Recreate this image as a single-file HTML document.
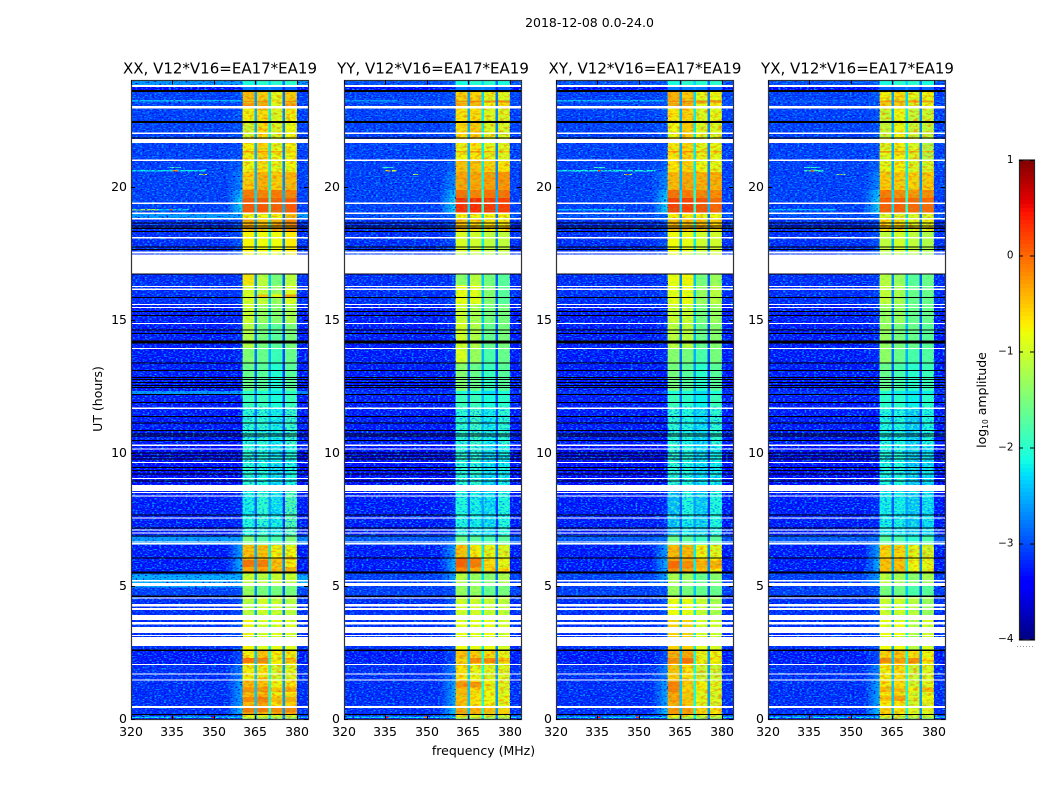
<!DOCTYPE html>
<html lang="en">
<head>
<meta charset="utf-8">
<title>2018-12-08 dynamic spectra</title>
<style>
html,body{margin:0;padding:0;background:#fff;}
svg{display:block;}
text{font-family:"DejaVu Sans","Liberation Sans",sans-serif;fill:#000;}
</style>
</head>
<body>
<svg id="chart" xmlns="http://www.w3.org/2000/svg" width="1050" height="800" viewBox="0 0 1050 800">
  <defs>
    <filter id="speckLight" x="0" y="0" width="1" height="1" color-interpolation-filters="sRGB">
      <feTurbulence type="fractalNoise" baseFrequency="0.42 0.85" numOctaves="1" seed="3"/>
      <feColorMatrix type="matrix" values="0 0 0 0 0  0 0 0 0 .62  0 0 0 0 1  5 0 0 0 -2.5"/>
    </filter>
    <filter id="speckDark" x="0" y="0" width="1" height="1" color-interpolation-filters="sRGB">
      <feTurbulence type="fractalNoise" baseFrequency="0.42 0.85" numOctaves="1" seed="11"/>
      <feColorMatrix type="matrix" values="0 0 0 0 0  0 0 0 0 0  0 0 0 0 .85  0 5 0 0 -2.8"/>
    </filter>
    <filter id="speckBand" x="0" y="0" width="1" height="1" color-interpolation-filters="sRGB">
      <feTurbulence type="fractalNoise" baseFrequency="0.4 0.7" numOctaves="1" seed="23"/>
      <feColorMatrix type="matrix" values="0 0 0 0 0  0 0 0 0 .5  0 0 0 0 1  0 7 0 0 -3.5"/>
    </filter>
    <filter id="speckBandBright" x="0" y="0" width="1" height="1" color-interpolation-filters="sRGB">
      <feTurbulence type="fractalNoise" baseFrequency="0.35 0.6" numOctaves="1" seed="31"/>
      <feColorMatrix type="matrix" values="0 0 0 0 .2  0 0 0 0 1  0 0 0 0 .75  0 0 7 0 -3.4"/>
    </filter>
    <filter id="mottleHot" x="0" y="0" width="1" height="1" color-interpolation-filters="sRGB">
      <feTurbulence type="fractalNoise" baseFrequency="0.22 0.45" numOctaves="2" seed="7"/>
      <feColorMatrix type="matrix" values="0 0 0 0 1  0 0 0 0 .3  0 0 0 0 0  3.5 0 0 0 -1.6"/>
    </filter>
    <filter id="mottleCool" x="0" y="0" width="1" height="1" color-interpolation-filters="sRGB">
      <feTurbulence type="fractalNoise" baseFrequency="0.22 0.5" numOctaves="2" seed="17"/>
      <feColorMatrix type="matrix" values="0 0 0 0 .1  0 0 0 0 .95  0 0 0 0 .45  0 3.5 0 0 -1.65"/>
    </filter>
    <linearGradient id="skirtFade" x1="0" x2="1" y1="0" y2="0">
      <stop offset="0" stop-color="#000"/>
      <stop offset="1" stop-color="#fff"/>
    </linearGradient>
    <mask id="skirtMask" maskContentUnits="objectBoundingBox" x="0" y="0" width="1" height="1">
      <rect x="0" y="0" width="1" height="1" fill="url(#skirtFade)"/>
    </mask>
  </defs>
  <text x="589.5" y="27" text-anchor="middle" font-size="12.5">2018-12-08 0.0-24.0</text>
  <text x="483.5" y="755" text-anchor="middle" font-size="12.5">frequency (MHz)</text>
  <text transform="translate(102,399) rotate(-90)" text-anchor="middle" font-size="12.5">UT (hours)</text>
  <text transform="translate(986,400) rotate(-90)" text-anchor="middle" font-size="12.5">log<tspan font-size="7.5" dy="2">10</tspan><tspan dy="-2"> amplitude</tspan></text>
  <g id="panels"></g>
  <g id="colorbar"></g>
</svg>
<script>
// ---------- axis ticks ----------
const freqTicks = [320, 335, 350, 365, 380];
const hourTicks = [0, 5, 10, 15, 20];
const colorbarTicks = [1, 0, -1, -2, -3, -4];
const panelTitles = ["XX, V12*V16=EA17*EA19", "YY, V12*V16=EA17*EA19", "XY, V12*V16=EA17*EA19", "YX, V12*V16=EA17*EA19"];

// ---------- heatmap blocks: time edges in UT hours (top to bottom), frequency edges in MHz ----------
const rowEdges = [24,23.83,23.57,23.26,23.15,22.95,22.47,21.86,21.04,20.56,19.88,19.58,19.05,18.84,18.34,16.76,16.31,15.56,14.85,13.95,13.39,12.33,12.22,11.70,10.31,8.81,7.67,6.93,6.55,6.06,5.53,5.13,4.60,3.92,2.62,2.08,1.49,0.96,0.50,0.21,0.11,0.06,0];
const channelEdges = [320,354.5,360.4,364.7,365.6,369.7,370.6,374.8,375.7,380,384];

// ---------- log10 amplitude per time block ----------
const rowBackground = [-3.0,-3.4,-3.1,-3.0,-3.1,-3.1,-3.1,-3.1,-3.1,-3.1,-3.1,-3.1,-3.0,-3.2,-3.2,-3.2,-3.2,-3.3,-3.3,-3.3,-3.3,-3.2,-3.3,-3.3,-3.4,-3.3,-3.3,-2.95,-3.3,-3.3,-3.1,-3.1,-3.2,-3.2,-3.3,-3.2,-3.2,-3.2,-3.2,-3.2,-2.2,-3.3];
const rowSkirt = [-2.9,-3.3,-3,-3,-3,-3,-3,-3,-2.9,-2.7,-2.3,-2.2,-2.9,-3,-3,-3.1,-3.1,-3.2,-3.2,-3.2,-3.3,-3.1,-3.3,-3.4,-3.4,-3.2,-3.2,-2.8,-2.5,-2.4,-2.5,-3,-3,-3,-3,-2.7,-2.5,-2.5,-2.3,-3,-2.2,-3];
const rowNotch = [-2.6,-3,-2.6,-2.6,-2.6,-2.5,-2.5,-2.5,-2.5,-2.5,-2.3,-2.3,-2.6,-2.5,-2.5,-2.7,-2.7,-2.7,-2.8,-2.8,-2.9,-2.7,-2.8,-2.8,-2.9,-2.9,-2.9,-2.7,-2.5,-2.5,-2.6,-2.7,-2.5,-2.5,-2.4,-2.4,-2.4,-2.4,-2.4,-2.6,-2.4,-2.9];

// four receiver sub-bands per time block, one table per polarisation
const xxBands = [[-2.1,-2,-2,-2],[-2.8,-2.8,-2.8,-2.9],[-.45,-.55,-.85,-.55],[-.9,-.9,-1,-.9],[-.3,-.4,-.9,-.35],[-.75,-.65,-.9,-.75],[-1,-.65,-.9,-.8],[-.75,-.6,-.85,-.75],[-.8,-.65,-.85,-.8],[-.55,-.4,-.55,-.45],[-.1,-.15,-.1,-.15],[.1,.1,.05,.1],[-.8,-.8,-.8,-.5],[-.45,-.5,-.4,-.2],[-.75,-.8,-.8,-.7],[-.65,-1.1,-1.5,-1.1],[-.95,-1.05,-1.3,-.9],[-1,-1.3,-1.4,-1.2],[-1.15,-1.5,-1.7,-1.5],[-1.45,-1.6,-1.9,-1.6],[-1.6,-1.7,-2.05,-1.7],[-2,-2.1,-2.2,-2],[-1.9,-1.9,-2.1,-1.9],[-2,-2,-2.2,-1.9],[-2,-2.1,-2.3,-2.1],[-2.2,-2,-2.3,-1.75],[-2.1,-2,-2.2,-1.7],[-1.5,-1.7,-1.8,-1.5],[-.5,-.5,-.75,-.8],[-.35,-.35,-.5,-.4],[-1,-1.1,-1,-1],[-1.3,-1.5,-1.5,-1.5],[-1.1,-.95,-1,-1.1],[-.75,-.9,-.85,-.9],[-.75,-.5,-.75,-.75],[-.75,-.7,-.95,-.9],[-.45,-.5,-.8,-.7],[-.45,-.35,-.7,-.6],[-.3,-.4,-.35,-.4],[-.75,-.75,-.85,-.95],[-1,-1.1,-1.2,-1.2],[-1.3,-1.3,-1.4,-1.4]];
const yyBands = [[-2.1,-2,-2,-2.1],[-2.8,-2.8,-2.8,-2.9],[-.6,-.6,-.85,-.9],[-.9,-.9,-1,-1],[-.4,-.45,-.8,-.7],[-.7,-.65,-.9,-.9],[-.65,-.55,-.9,-.95],[-.8,-.7,-.85,-.9],[-.5,-.5,-.6,-.7],[-.35,-.35,-.3,-.25],[-.05,-.15,-.05,-.05],[.35,.35,.3,.25],[-.8,-.8,-.8,-.8],[-.5,-.6,-.7,-.7],[-.95,-1,-1.1,-1.1],[-1.4,-1.1,-1.5,-1.7],[-.8,-.85,-1.4,-1.7],[-1,-1.2,-1.5,-1.5],[-.95,-1.15,-1.6,-1.5],[-.9,-1.3,-1.8,-1.6],[-1.4,-1.6,-1.9,-1.7],[-2.1,-2.1,-2.3,-2.1],[-1.9,-1.9,-2.1,-2],[-2,-1.9,-2.2,-2],[-2,-2,-2.3,-2.2],[-2.1,-2.2,-2.3,-2.1],[-2.1,-2.2,-2.3,-2.1],[-1.6,-1.7,-1.8,-1.7],[-.5,-.75,-.85,-.9],[-.2,-.4,-.6,-.7],[-1.1,-1.3,-1.4,-1.2],[-1.3,-1.3,-1.6,-1.5],[-.95,-.95,-1,-1.05],[-.8,-.85,-.8,-.95],[-.5,-.55,-.65,-.85],[-.7,-.85,-.9,-.9],[-.45,-.65,-.8,-.9],[-.5,-.7,-.8,-.85],[-.35,-.4,-.5,-.6],[-.75,-.8,-.9,-.95],[-1,-1.1,-1.2,-1.2],[-1.3,-1.3,-1.4,-1.4]];
const xyBands = [[-2.1,-2,-2,-2],[-2.8,-2.8,-2.8,-2.9],[-.4,-.55,-.85,-.8],[-.9,-.9,-1,-1],[-.35,-.4,-.85,-.7],[-.7,-.6,-.9,-.85],[-.8,-.55,-.9,-.9],[-.7,-.6,-.85,-.85],[-.7,-.6,-.8,-.85],[-.45,-.35,-.4,-.4],[-.05,-.1,-.15,-.2],[.25,.25,.15,0],[-.75,-.75,-.8,-.8],[-.45,-.5,-.5,-.6],[-.8,-.85,-1,-1],[-.8,-.75,-1.5,-1.3],[-.85,-.8,-1.3,-1.1],[-1,-1,-1.5,-1.3],[-1.1,-1.1,-1.6,-1.4],[-1.4,-1.5,-1.8,-1.5],[-1.5,-1.7,-2,-1.7],[-2.1,-2.1,-2.3,-2.1],[-1.9,-2,-2.2,-1.9],[-2,-2.1,-2.3,-2],[-2,-2.1,-2.3,-2.2],[-2.5,-2.1,-2.4,-2.1],[-2.5,-2.2,-2.4,-2.1],[-1.6,-1.7,-1.9,-1.7],[-.45,-.45,-.8,-.9],[-.3,-.35,-.55,-.75],[-1.2,-1.3,-1.6,-1.4],[-1.3,-1.5,-1.6,-1.6],[-.8,-.8,-1,-1.2],[-.55,-.55,-.9,-.95],[-.4,-.35,-.85,-.8],[-.55,-.7,-1,-1],[-.3,-.5,-.9,-.9],[-.4,-.55,-.9,-.95],[-.25,-.3,-.6,-.7],[-.7,-.75,-.9,-.95],[-1,-1.1,-1.2,-1.2],[-1.3,-1.3,-1.4,-1.4]];
const yxBands = [[-2.1,-2,-2,-2.1],[-2.9,-2.9,-2.9,-2.9],[-.75,-.65,-.85,-.8],[-1,-1,-1.05,-1],[-.55,-.55,-.9,-.8],[-1,-.8,-1.05,-1],[-1.05,-.8,-1,-1.05],[-.9,-.75,-.9,-1.15],[-.85,-.75,-.9,-.95],[-.55,-.55,-.6,-.55],[-.1,-.2,-.25,-.2],[.05,.05,0,0],[-.95,-.95,-.95,-.95],[-.65,-.7,-.85,-.85],[-1.1,-1,-1.1,-1.2],[-1.1,-1.3,-1.7,-1.6],[-1.05,-1.2,-1.6,-1.6],[-1.3,-1.3,-1.6,-1.6],[-1.3,-1.5,-1.6,-1.7],[-1.35,-1.6,-1.8,-1.75],[-1.6,-1.8,-2,-1.9],[-2.1,-2.2,-2.3,-2.2],[-2,-2,-2.2,-2],[-2.1,-2.1,-2.4,-2.1],[-2.1,-2.1,-2.4,-2.3],[-2.2,-2.2,-2.4,-2.3],[-2.2,-2.2,-2.4,-2.3],[-1.7,-1.8,-2,-1.8],[-.6,-.6,-.85,-.95],[-.5,-.5,-.8,-.85],[-1.1,-1.2,-1.4,-1.2],[-1.5,-1.55,-1.8,-1.7],[-1,-.95,-1.1,-1.3],[-.8,-.8,-1.15,-.95],[-.6,-.55,-.65,-.8],[-.75,-.65,-1,-.9],[-.7,-.65,-.95,-.9],[-.75,-.7,-.95,-.9],[-.6,-.7,-.9,-.9],[-.8,-.85,-.95,-1],[-1.1,-1.1,-1.2,-1.2],[-1.3,-1.3,-1.4,-1.4]];

// ---------- bright stripes across the sub-bands: panel, hour low, hour high, band levels ----------
const bandStripes = [
  [0,2.13,2.31,-.1,-.15,-.75,-.5],[0,1.03,1.21,-.25,-.25,-.5,-.35],[0,.65,.84,-.2,-.15,-.5,-.4],[0,.28,.43,-.1,-.1,-.2,-.2],[0,5.72,6,-.05,-.1,-.5,-.75],[0,15.87,15.97,-.9,-.45,-.75,-.25],[0,23.18,23.24,-.2,-.2,-.7,-.2],[0,21.3,21.36,-.3,-.3,-.4,-.5],
  [1,5.7,6.05,.05,-.1,-.65,-.85],[1,2.13,2.31,-.6,-.2,-.2,-.55],[1,1.2,1.4,-.25,-.25,-.75,-.9],[1,23.18,23.24,-.2,-.1,-.2,-.2],[1,21.3,21.36,-.3,-.3,-.4,-.5],
  [2,5.68,5.95,0,-.2,-.4,-.4],[2,2.13,2.31,-.2,-.05,-.75,-.75],[2,1.03,1.4,-.15,-.6,-.75,-.9],[2,.65,.84,-.3,-.5,-.8,-.9],[2,23.18,23.24,-.2,-.1,-.2,-.2],[2,21.3,21.36,-.3,-.3,-.4,-.5],
  [3,2.13,2.31,-.2,-.3,-.2,-.7],[3,1.03,1.21,-.45,-.5,-.75,-.45],[3,.7,.9,-.5,-.3,-.9,-.8],[3,23.18,23.24,-.3,-.25,-.3,-.3],[3,21.3,21.36,-.3,-.3,-.4,-.5]
];

// ---------- localized features: panel, hour low, hour high, MHz low, MHz high, log10 amplitude ----------
const rfiFeatures = [
  [0,23.83,24,320,360.4,-2.6],[0,23.83,24,380,384,-2.6],[0,18.84,19.05,320,360.4,-2.6],[0,18.84,19.05,380,384,-2.6],[0,12.22,12.33,320,360.4,-2.6],[0,12.22,12.33,380,384,-2.7],[0,6.62,6.85,320,360.4,-2.6],[0,6.62,6.85,380,384,-2.7],
  [0,4.95,5.45,320,360.4,-2.5],[0,4.95,5.45,380,384,-2.5],[0,20.72,20.76,333.5,338,-1.9],[0,20.59,20.63,320,347,-2.2],[0,20.58,20.64,335,337,-0.2],[0,20.45,20.49,344.5,347.5,-1.2],[0,20.45,20.49,346,346.7,0.3],[0,19.12,19.17,320,330,-1.2],[0,19.12,19.17,330,341,-2.3],[0,19.12,19.17,334,335,0.2],[0,23.22,23.26,320,360,-2.4],[0,0.06,0.11,334.5,335.5,0.4],[0,0.06,0.11,349,350,0.4],
  [1,20.72,20.76,334,338,-1.9],[1,20.59,20.63,335,339,-0.9],[1,20.58,20.64,335.5,336.5,-0.3],[1,20.45,20.49,345,347,-1],[1,23.22,23.26,320,340,-2.6],[1,0.06,0.11,335,336,0.4],[1,0.06,0.11,349,350,-0.3],
  [2,20.72,20.76,333.5,338,-1.9],[2,20.59,20.63,320,356,-2.1],[2,20.58,20.64,335.2,336.2,0.2],[2,20.45,20.49,344.5,347.5,-1.2],[2,20.45,20.49,345.5,346.2,0.3],[2,23.22,23.26,320,360,-2.4],[2,19.12,19.17,320,345,-2.3],[2,0.06,0.11,335,336,0.4],[2,0.06,0.11,349,350,0.1],
  [3,20.72,20.76,333,339,-2],[3,20.59,20.63,333,340,-1.9],[3,20.57,20.65,335.5,336.5,0.2],[3,20.45,20.49,344.5,348,-1.3],[3,20.45,20.49,346,346.8,-0.3],[3,19.12,19.17,320,345,-2.4],[3,0.06,0.11,335,336,0.4],[3,0.06,0.11,349,350,0.2]
];

// ---------- flagged times shared by all panels, in UT hours [low, high] ----------
const blankedIntervals = [[23.76,23.83],[22.95,23.04],[21.99,22.04],[21.66,21.81],[20.97,21.04],[19.37,19.41],[18.99,19.05],[18.78,18.84],[18.07,18.12],[17.51,17.57],[16.76,17.47],[16.25,16.29],[16.14,16.18],[15.56,15.60],[15.46,15.50],[14.86,14.90],[13.92,13.96],[11.67,11.71],[10.28,10.32],[10.14,10.17],[9.63,9.67],[9.03,9.07],[8.59,8.81],[8.50,8.54],[8.37,8.41],[7.56,7.59],[7.10,7.14],[6.98,7.02],[6.64,6.68],[6.58,6.62],[5.19,5.24],[5.01,5.13],[4.54,4.59],[4.24,4.34],[4.12,4.18],[3.74,3.92],[3.56,3.66],[3.24,3.47],[3.14,3.17],[2.76,3.10],[2.05,2.08],[1.70,1.73],[1.46,1.51],[0.43,0.50]];
const zeroedIntervals = [[23.57,23.64],[22.41,22.47],[21.84,21.86],[18.62,18.66],[18.52,18.56],[18.43,18.47],[18.31,18.34],[17.72,17.76],[17.63,17.67],[16.74,16.76],[15.84,15.87],[15.33,15.35],[15.16,15.19],[14.63,14.65],[14.48,14.51],[14.13,14.23],[13.39,13.41],[13.10,13.13],[12.85,12.87],[12.75,12.78],[12.64,12.67],[12.55,12.57],[12.45,12.48],[12.20,12.23],[11.90,11.93],[11.37,11.40],[11.12,11.15],[10.85,10.87],[10.72,10.75],[10.63,10.66],[10.47,10.49],[10.00,10.02],[9.90,9.92],[9.78,9.81],[9.47,9.49],[9.34,9.37],[9.22,9.24],[8.93,8.97],[7.67,7.70],[7.19,7.22],[6.89,6.92],[6.06,6.09],[5.49,5.55],[4.61,4.66],[2.58,2.62],[0.18,0.21]];

// ---------- time spans carrying extra band texture, in UT hours [low, high] ----------
const hotSpans = [[18.34,23.57],[5.53,6.55],[0,2.62]];
const coolSpans = [[11.7,17.57],[2.76,5.53]];

// ---------- layout ----------
const SVGNS = "http://www.w3.org/2000/svg";
const axesLeft = [131, 344, 556, 768];
const titleCentre = [220, 433, 645, 857.5];
const axesWidth = 177, axesTop = 80.5, axesBottom = 719.5;
const freqMin = 320, freqMax = 384, hourMax = 24;
const levelMin = -4, levelMax = 1;
const cbLeft = 1019, cbWidth = 15, cbTop = 160, cbBottom = 640;

function xScale(left, mhz) { return left + (mhz - freqMin) * axesWidth / (freqMax - freqMin); }
function yScale(hour) { return axesBottom - hour * (axesBottom - axesTop) / hourMax; }
function cbScale(level) { return cbBottom - (level - levelMin) * (cbBottom - cbTop) / (levelMax - levelMin); }

function ramp(t, a, b) { return Math.max(0, Math.min(1, (t - a) / (b - a))); }
function jet(level) {
  const t = Math.max(0, Math.min(1, (level - levelMin) / (levelMax - levelMin)));
  const r = t < .89 ? ramp(t, .35, .66) : 1 - .5 * ramp(t, .89, 1);
  const g = t < .5 ? ramp(t, .125, .375) : 1 - ramp(t, .64, .91);
  const b = t < .11 ? .5 + .5 * ramp(t, 0, .11) : 1 - ramp(t, .34, .65);
  return "rgb(" + Math.round(r * 255) + "," + Math.round(g * 255) + "," + Math.round(b * 255) + ")";
}
function make(tag, attrs, parent) {
  const el = document.createElementNS(SVGNS, tag);
  for (const k in attrs) el.setAttribute(k, attrs[k]);
  parent.appendChild(el);
  return el;
}

const bandTables = [xxBands, yyBands, xyBands, yxBands];
const panelKeys = ["xx", "yy", "xy", "yx"];
const bandChannelIndex = [2, 4, 6, 8];
const panelsGroup = document.getElementById("panels");

panelKeys.forEach(function (key, p) {
  const left = axesLeft[p];
  const right = left + axesWidth;
  const bands = bandTables[p];
  const panel = make("g", {}, panelsGroup);
  
  

  const cells = make("g", { "shape-rendering": "crispEdges" }, panel);
  
  
  const skirtGroup = make("g", { "shape-rendering": "crispEdges", mask: "url(#skirtMask)" }, panel);
  
  
  const rfiGroup = make("g", { "shape-rendering": "crispEdges" }, panel);
  
  

  // heat cells
  for (let r = 0; r < rowEdges.length - 1; r++) {
    const rowLevels = [rowBackground[r], rowBackground[r], bands[r][0], rowNotch[r], bands[r][1], rowNotch[r] + .3, bands[r][2], rowNotch[r] - .2, bands[r][3], rowBackground[r]];
    const y0 = yScale(rowEdges[r]), y1 = yScale(rowEdges[r + 1]);
    for (let c = 0; c < channelEdges.length - 1; c++) {
      const x0 = xScale(left, channelEdges[c]), x1 = xScale(left, channelEdges[c + 1]);
      const cell = make("rect", { x: x0, y: y0, width: x1 - x0, height: y1 - y0, fill: jet(rowLevels[c]) }, cells);
      
      
    }
    const sx0 = xScale(left, channelEdges[1]), sx1 = xScale(left, channelEdges[2]);
    const skirtCell = make("rect", { x: sx0, y: y0, width: sx1 - sx0, height: y1 - y0, fill: jet(rowSkirt[r]) }, skirtGroup);
    
    
  }

  // stripes across the sub-bands
  bandStripes.forEach(function (s) {
    if (s[0] !== p) return;
    bandChannelIndex.forEach(function (c, b) {
      const x0 = xScale(left, channelEdges[c]), x1 = xScale(left, channelEdges[c + 1]);
      const y0 = yScale(s[2]), y1 = yScale(s[1]);
      const stripe = make("rect", { x: x0, y: y0, width: x1 - x0, height: y1 - y0, fill: jet(s[3 + b]) }, rfiGroup);
      
      
    });
  });

  // localized interference
  rfiFeatures.forEach(function (f) {
    if (f[0] !== p) return;
    const x0 = xScale(left, f[3]), x1 = xScale(left, f[4]);
    const y0 = yScale(f[2]), y1 = yScale(f[1]);
    const mark = make("rect", { x: x0, y: y0, width: x1 - x0, height: y1 - y0, fill: jet(f[5]) }, rfiGroup);
    
    
  });

  // speckle texture over background
  const bgX1 = xScale(left, channelEdges[2]);
  const rightX0 = xScale(left, channelEdges[9]);
  ["speckLight", "speckDark"].forEach(function (id) {
    const a = make("rect", { x: left, y: axesTop, width: bgX1 - left, height: axesBottom - axesTop, fill: "#000", filter: "url(#" + id + ")" }, panel);
    
    
    const b = make("rect", { x: rightX0, y: axesTop, width: right - rightX0, height: axesBottom - axesTop, fill: "#000", filter: "url(#" + id + ")" }, panel);
    
    
  });

  // texture inside each receiver sub-band
  bandChannelIndex.forEach(function (c) {
    const x0 = xScale(left, channelEdges[c]), x1 = xScale(left, channelEdges[c + 1]);
    function texture(span, id, op) {
      const y0 = yScale(span[1]), y1 = yScale(span[0]);
      const t = make("rect", { x: x0, y: y0, width: x1 - x0, height: y1 - y0, fill: "#000", filter: "url(#" + id + ")", opacity: op }, panel);
      
      
    }
    hotSpans.forEach(function (s) { texture(s, "mottleHot", .5); texture(s, "mottleCool", .25); });
    coolSpans.forEach(function (s) { texture(s, "mottleCool", .3); });
    texture([6.9, 11.75], "speckBand", .8);
    texture([6.9, 11.75], "speckBandBright", .8);
  });

  // flagged rows
  const flags = make("g", { "shape-rendering": "crispEdges" }, panel);
  
  
  blankedIntervals.forEach(function (iv) {
    const y0 = yScale(iv[1]), y1 = yScale(iv[0]);
    const gap = make("rect", { x: left, y: y0, width: axesWidth, height: Math.max(1, y1 - y0), fill: "#fff" }, flags);
    
    
  });
  zeroedIntervals.forEach(function (iv) {
    const y0 = yScale(iv[1]), y1 = yScale(iv[0]);
    const gap = make("rect", { x: left, y: y0, width: axesWidth, height: Math.max(1, y1 - y0), fill: "#000" }, flags);
    
    
  });

  // frame
  const frame = make("rect", { x: left + .5, y: axesTop, width: axesWidth, height: axesBottom - axesTop, fill: "none", stroke: "#333", "stroke-width": 1.2 }, panel);
  
  

  // ticks + labels
  freqTicks.forEach(function (t) {
    const x = Math.round(xScale(left, t)) + .5;
    const low = make("line", { x1: x, x2: x, y1: axesBottom, y2: axesBottom - 4, stroke: "#000" }, panel);
    
    
    const high = make("line", { x1: x, x2: x, y1: axesTop, y2: axesTop + 4, stroke: "#000" }, panel);
    
    
    const label = make("text", { x: x - .5, y: 736, "text-anchor": "middle", "font-size": 12.5 }, panel);
    label.textContent = String(t);
    
    
  });
  hourTicks.forEach(function (t) {
    const y = Math.round(yScale(t) - .5) + .5;
    const l = make("line", { x1: left, x2: left + 4, y1: y, y2: y, stroke: "#000" }, panel);
    
    
    const rt = make("line", { x1: right, x2: right - 4, y1: y, y2: y, stroke: "#000" }, panel);
    
    
    const label = make("text", { x: left - 4, y: y + 3.5, "text-anchor": "end", "font-size": 12.5 }, panel);
    label.textContent = String(t);
    
    
  });

  const title = make("text", { x: titleCentre[p], y: 73.5, "text-anchor": "middle", "font-size": 15 }, panel);
  title.textContent = panelTitles[p];
  
  
});

// ---------- colorbar ----------
const cb = document.getElementById("colorbar");
const cbGrad = make("g", { "shape-rendering": "crispEdges" }, cb);


for (let y = cbTop; y < cbBottom; y += 4) {
  const lvl = levelMin + (cbBottom - y - 2) * (levelMax - levelMin) / (cbBottom - cbTop);
  const s = make("rect", { x: cbLeft, y: y, width: cbWidth, height: 4, fill: jet(lvl) }, cbGrad);
  
  
}
const cbFrame = make("rect", { x: cbLeft + .5, y: cbTop, width: cbWidth, height: cbBottom - cbTop, fill: "none", stroke: "#222", "stroke-width": 1.2 }, cb);


colorbarTicks.forEach(function (t) {
  const y = Math.round(cbScale(t)) + .5 * (t === 1 ? 1 : (t === -4 ? -1 : 0));
  const a = make("line", { x1: cbLeft, x2: cbLeft + 4, y1: y, y2: y, stroke: "#000" }, cb);
  
  
  const b = make("line", { x1: cbLeft + cbWidth - 4, x2: cbLeft + cbWidth, y1: y, y2: y, stroke: "#000" }, cb);
  
  
  const label = make("text", { x: 1013.5, y: y + 2.5, "text-anchor": "end", "font-size": 10.4 }, cb);
  label.textContent = (t < 0 ? "\u2212" + (-t) : String(t));
  
  
});
const cbDots = make("line", { x1: 1017, x2: 1035, y1: 646.5, y2: 646.5, stroke: "#999", "stroke-dasharray": "1 2" }, cb);


</script>
</body>
</html>
